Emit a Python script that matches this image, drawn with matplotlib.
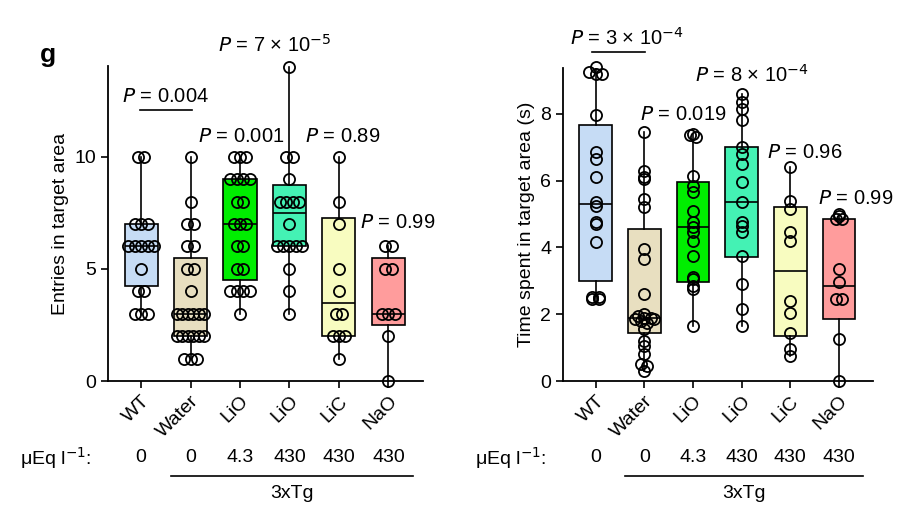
import numpy as np
import matplotlib
matplotlib.use("Agg")
import matplotlib.pyplot as plt
from collections import Counter

plt.rcParams['font.family'] = ['Liberation Sans', 'DejaVu Sans']

groups = ["WT", "Water", "LiO", "LiO", "LiC", "NaO"]
doses = ["0", "0", "4.3", "430", "430", "430"]
colors = ["#c6dcf5", "#e8dfc0", "#00ee00", "#44f2b4", "#f8fcc0", "#ff9c9c"]

# entries in target area
entries = [
    [10, 10, 7, 7, 7, 6, 6, 6, 6, 6, 5, 4, 4, 3, 3, 3],
    [10, 8, 7, 7, 6, 6, 5, 5, 4, 3, 3, 3, 3, 3, 3, 2, 2, 2, 2, 2, 2, 1, 1, 1],
    [10, 10, 10, 9, 9, 9, 9, 8, 8, 7, 7, 7, 6, 6, 5, 5, 4, 4, 4, 4, 3],
    [14, 10, 10, 9, 8, 8, 8, 8, 7, 6, 6, 6, 6, 6, 5, 4, 3],
    [10, 8, 7, 5, 4, 3, 3, 2, 2, 2, 1],
    [6, 6, 5, 5, 3, 3, 3, 2, 0],
]
entries_box = [  # q1, median, q3
    (4.25, 6, 7), (2, 3, 5.5), (4.5, 7, 9), (6, 7.5, 8.75), (2, 3.5, 7.25), (2.5, 3, 5.5)]

# time spent in target area (s)
times = [
    [9.4, 9.25, 9.2, 9.2, 7.95, 6.85, 6.65, 6.1, 5.35, 5.25, 4.75, 4.7, 4.15, 2.5, 2.45, 2.5, 2.45],
    [7.45, 6.3, 6.1, 6.05, 5.45, 5.2, 3.95, 3.65, 2.6, 2.0, 1.95, 1.9, 1.85, 1.8, 1.75, 1.9, 1.85,
     1.55, 1.2, 1.05, 0.8, 0.5, 0.45, 0.3],
    [7.4, 7.35, 7.3, 6.15, 5.85, 5.65, 5.1, 4.75, 4.6, 4.45, 4.2, 3.75, 3.1, 3.05, 2.85, 2.75, 1.65],
    [8.6, 8.35, 8.15, 7.8, 7.0, 6.8, 6.5, 5.95, 5.35, 4.75, 4.65, 4.45, 3.75, 2.9, 2.15, 1.65],
    [6.4, 5.4, 5.15, 4.45, 4.2, 2.4, 2.05, 1.45, 0.95, 0.75],
    [5.0, 4.95, 4.85, 4.85, 3.35, 2.95, 2.45, 2.45, 1.25, 0.0],
]
times_box = [
    (3.0, 5.3, 7.65), (1.45, 1.9, 4.55), (2.95, 4.6, 5.95), (3.7, 5.35, 7.0),
    (1.35, 3.3, 5.2), (1.85, 2.85, 4.85)]


def draw_panel(ax, data, box, step, ylim, yticks, ylabel):
    stats = []
    for d, (q1, med, q3) in zip(data, box):
        stats.append(dict(med=med, q1=q1, q3=q3, whislo=min(d), whishi=max(d), fliers=[]))
    pos = np.arange(1, 7)
    bp = ax.bxp(stats, positions=pos, widths=0.67, patch_artist=True, showcaps=False,
                boxprops=dict(linewidth=1.2, edgecolor="black"),
                medianprops=dict(color="black", linewidth=1.2),
                whiskerprops=dict(color="black", linewidth=1.2), zorder=2)
    for p, c in zip(bp["boxes"], colors):
        p.set_facecolor(c)
    for i, d in enumerate(data):
        rounded = [round(v / step) * step for v in d]
        seen = Counter()
        cnt = Counter(rounded)
        xs = []
        for r in rounded:
            k = cnt[r]
            j = seen[r]
            seen[r] += 1
            sp = min(0.13, 0.56 / max(k - 1, 1))
            xs.append(pos[i] + (j - (k - 1) / 2) * sp)
        ax.plot(xs, d, "o", mfc="none", mec="black", ms=8, mew=1.3, zorder=3, clip_on=False)
    ax.set_xlim(0.33, 6.7)
    ax.set_ylim(*ylim)
    ax.set_yticks(yticks)
    ax.set_xticks(pos)
    ax.set_xticklabels(groups, rotation=45, ha="right", rotation_mode="anchor", fontsize=14)
    ax.tick_params(labelsize=14, width=1.2, length=5)
    ax.set_ylabel(ylabel, fontsize=14)
    for s in ["top", "right"]:
        ax.spines[s].set_visible(False)
    for s in ["left", "bottom"]:
        ax.spines[s].set_linewidth(1.3)


fig = plt.figure(figsize=(9.03, 5.2), dpi=100)
ax1 = fig.add_axes([108 / 903, 1 - 381 / 520, 315 / 903, 315 / 520])
ax2 = fig.add_axes([563 / 903, 1 - 381 / 520, 310 / 903, 313 / 520])
draw_panel(ax1, entries, entries_box, 1.0, (0, 14.05), [0, 5, 10], "Entries in target area")
draw_panel(ax2, times, times_box, 0.12, (0, 9.37), [0, 2, 4, 6, 8], "Time spent in target area (s)")

fig.text(40 / 903, 1 - 55 / 520, "g", fontsize=19, fontweight="bold", va="center")


def ftxt(x, y, s):
    fig.text(x / 903, 1 - y / 520, s, fontsize=14.5, va="center", ha="left")


ftxt(122, 97, r"$P$ = 0.004")
ftxt(198, 136, r"$P$ = 0.001")
ftxt(218, 45, r"$P$ = 7 × 10$^{-5}$")
ftxt(305, 136, r"$P$ = 0.89")
ftxt(360, 222, r"$P$ = 0.99")
ftxt(570, 38, r"$P$ = 3 × 10$^{-4}$")
ftxt(640, 115, r"$P$ = 0.019")
ftxt(695, 75, r"$P$ = 8 × 10$^{-4}$")
ftxt(767, 152, r"$P$ = 0.96")
ftxt(818, 198, r"$P$ = 0.99")

for (x0, x1, y) in [(140, 192, 110), (592, 645, 52)]:
    fig.add_artist(plt.Line2D([x0 / 903, x1 / 903], [1 - y / 520] * 2, color="black", lw=1.2))

# dose row and 3xTg bracket
for ax, ox in [(ax1, 20), (ax2, 475)]:
    fig.text(ox / 903, 1 - 458 / 520, "μEq l$^{-1}$:", fontsize=14, va="center")
    for i, d in enumerate(doses):
        xd = ax.transData.transform((i + 1, 0))[0]
        fig.text(xd / 903, 1 - 458 / 520, d, fontsize=14, va="center", ha="center")
    xa = ax.transData.transform((1.6, 0))[0] / 903
    xb = ax.transData.transform((6.5, 0))[0] / 903
    fig.add_artist(plt.Line2D([xa, xb], [1 - 476 / 520] * 2, color="black", lw=1.2))
    fig.text((xa + xb) / 2, 1 - 494 / 520, "3xTg", fontsize=14, va="center", ha="center")

fig.savefig("out.png", dpi=100)
